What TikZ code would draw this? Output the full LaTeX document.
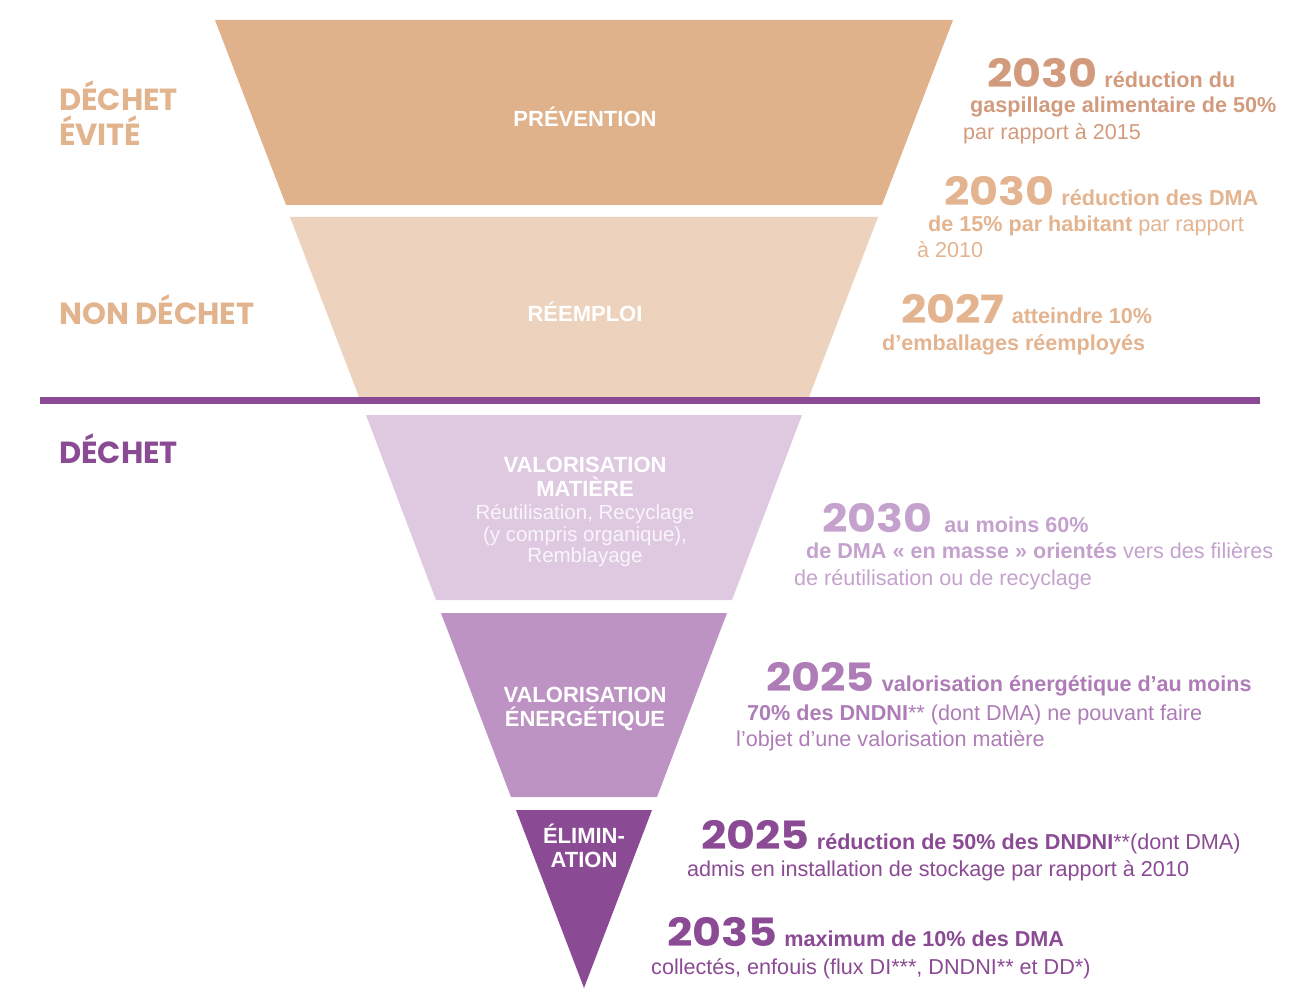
\documentclass[tikz,border=0pt]{standalone}
\usepackage{fontspec}
\setmainfont{Liberation Sans}
\newfontfamily\heavyfont{Poppins}
\newfontfamily\yearfont{Poppins}[FakeStretch=1.14]
\definecolor{cPrev}{HTML}{DFB28C}
\definecolor{cReem}{HTML}{EDD2BD}
\definecolor{cVmat}{HTML}{DFC9E1}
\definecolor{cVene}{HTML}{BD93C3}
\definecolor{cElim}{HTML}{8B4A94}
\definecolor{tanLabel}{HTML}{E2B48E}
\definecolor{tanA}{HTML}{D29B7D}
\definecolor{tanB}{HTML}{E3B48F}
\definecolor{lilac}{HTML}{C4A2CD}
\definecolor{mauve}{HTML}{AE7CB6}
\definecolor{plum}{HTML}{8B4A94}
% big year figure; its height is kept out of the line box
\newcommand{\yr}[1]{\smash{\yearfont\bfseries\fontsize{39}{40}\selectfont #1}\hspace{7pt}}
\tikzset{
  body/.style={anchor=base west, inner sep=0pt, font=\fontsize{21.6}{24}\selectfont},
  side/.style={anchor=base west, inner sep=0pt, font=\heavyfont\bfseries\fontsize{30.5}{34}\selectfont},
  level/.style={anchor=base, inner sep=0pt, text=white, font=\bfseries\fontsize{22}{24}\selectfont},
  sublevel/.style={anchor=base, inner sep=0pt, text=white!82!cVmat, font=\fontsize{20.5}{22}\selectfont},
}
\begin{document}
\begin{tikzpicture}[x=1pt,y=-1pt]
\useasboundingbox (0,0) rectangle (1303,1000);
% funnel bands
\fill[cPrev] (215,20) -- (953,20) -- (882,205) -- (286,205) -- cycle;
\fill[cReem] (290,217) -- (878,217) -- (809,397) -- (359,397) -- cycle;
\fill[cVmat] (366,415) -- (802,415) -- (732,600) -- (436,600) -- cycle;
\fill[cVene] (441,613) -- (727,613) -- (657,797) -- (511,797) -- cycle;
\fill[cElim] (516,810) -- (652,810) -- (584,988) -- cycle;
% separator
\coordinate (sepL) at (40,400.5);
\coordinate (sepR) at (1260,400.5);
\draw[plum, line width=7pt] (sepL) -- (sepR);
% side labels
\node[side, text=tanLabel] (evite1) at (59,111) {DÉCHET};
\node[side, text=tanLabel] (evite2) at (59,146) {ÉVITÉ};
\node[side, text=tanLabel] (nondechet) at (59,324) {NON DÉCHET};
\node[side, text=plum] (dechet) at (59,463) {DÉCHET};
% band labels
\node[level] (prev) at (585,127) {PRÉVENTION};
\node[level] (reem) at (585,321) {RÉEMPLOI};
\node[level] (vmat1) at (585,472) {VALORISATION};
\node[level] (vmat2) at (585,496) {MATIÈRE};
\node[sublevel] (vmat3) at (585,519) {Réutilisation, Recyclage};
\node[sublevel] (vmat4) at (585,541) {(y compris organique),};
\node[sublevel] (vmat5) at (585,562) {Remblayage};
\node[level] (vene1) at (585,702) {VALORISATION};
\node[level] (vene2) at (585,726) {ÉNERGÉTIQUE};
\node[level] (elim1) at (584,843) {ÉLIMIN-};
\node[level] (elim2) at (584,867) {ATION};
% targets
\node[body, text=tanA] (t1a) at (987,88) {\yr{2030}\textbf{réduction du}};
\node[body, text=tanA] (t1b) at (970,113) {\textbf{gaspillage alimentaire de 50\%}};
\node[body, text=tanA] (t1c) at (963,140) {par rapport à 2015};
\node[body, text=tanB] (t2a) at (944,206) {\yr{2030}\textbf{réduction des DMA}};
\node[body, text=tanB] (t2b) at (928,232) {\textbf{de 15\% par habitant} par rapport};
\node[body, text=tanB] (t2c) at (917,258) {à 2010};
\node[body, text=tanB] (t3a) at (901,323) {\yr{2027}\textbf{atteindre 10\%}};
\node[body, text=tanB] (t3b) at (882,350) {\textbf{d’emballages réemployés}};
\node[body, text=lilac] (t4a) at (822,532) {\yr{2030}\hspace{5pt}\textbf{au moins 60\%}};
\node[body, text=lilac] (t4b) at (806,558) {\textbf{de DMA « en masse » orientés} vers des filières};
\node[body, text=lilac] (t4c) at (794,585) {de réutilisation ou de recyclage};
\node[body, text=mauve] (t5a) at (766,691) {\yr{2025}\textbf{valorisation énergétique d’au moins}};
\node[body, text=mauve] (t5b) at (747,720) {\textbf{70\% des DNDNI}** (dont DMA) ne pouvant faire};
\node[body, text=mauve] (t5c) at (736,746) {l’objet d’une valorisation matière};
\node[body, text=plum] (t6a) at (701,849) {\yr{2025}\textbf{réduction de 50\% des DNDNI}**(dont DMA)};
\node[body, text=plum] (t6b) at (687,876) {admis en installation de stockage par rapport à 2010};
\node[body, text=plum] (t7a) at (667,946) {\yr{2035}\textbf{maximum de 10\% des DMA}};
\node[body, text=plum] (t7b) at (651,974) {collectés, enfouis (flux DI***, DNDNI** et DD*)};
\end{tikzpicture}
\end{document}
